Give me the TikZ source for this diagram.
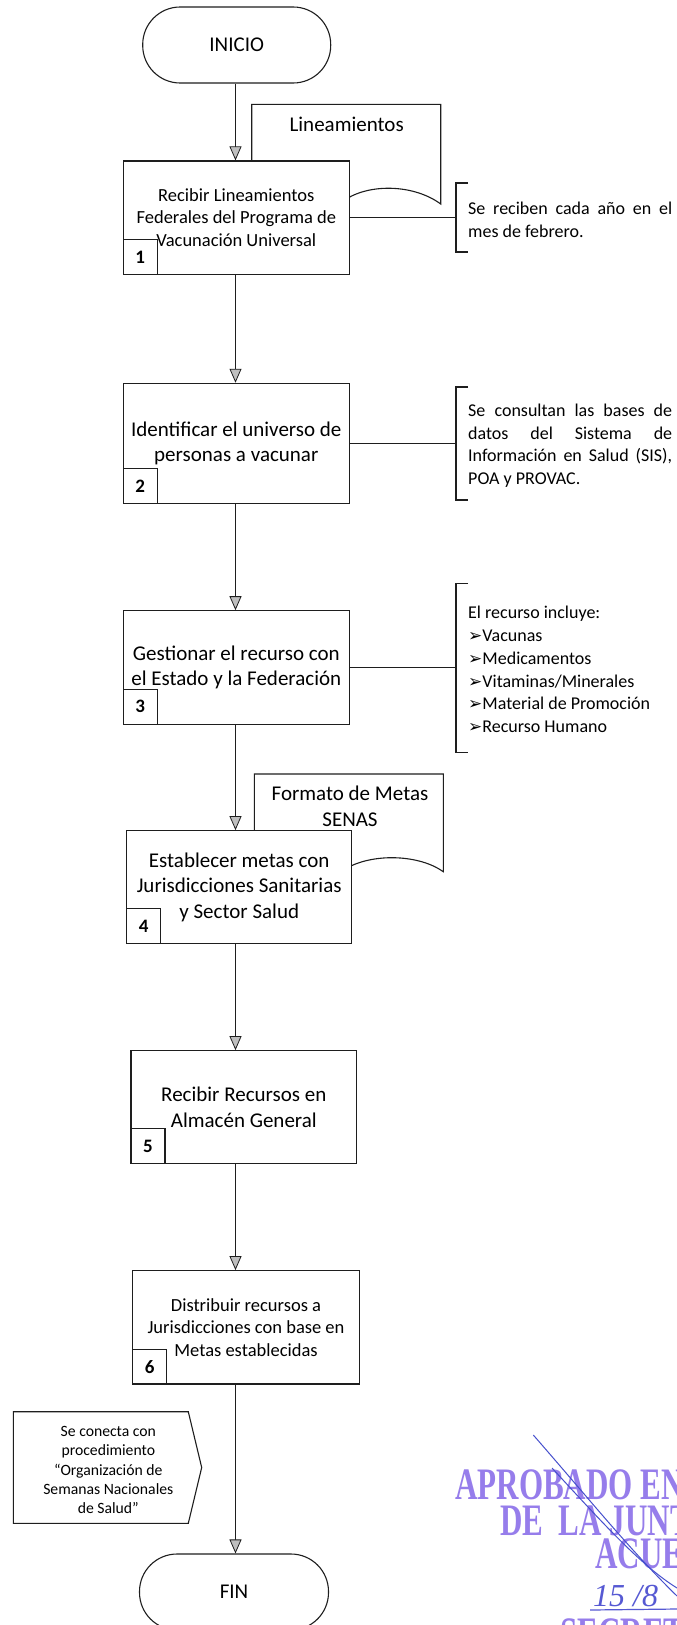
\documentclass[tikz,border=0pt]{standalone}
\usepackage{fontspec}
\usepackage{graphicx}
\setmainfont{Carlito}
\newfontfamily\stampfont{Liberation Serif}
\newfontfamily\symfont{DejaVu Sans}
\usetikzlibrary{arrows.meta}
\definecolor{stampcol}{RGB}{150,125,235}
\definecolor{penblue}{RGB}{70,80,205}
\definecolor{linecol}{RGB}{30,30,30}
\tikzset{
  base/.style={draw=linecol, line width=1.1pt},
  procbox/.style={base, fill=white, rectangle, inner sep=0pt, align=center},
  bigtxt/.style={font=\fontsize{21}{25.6}\selectfont},
  smalltxt/.style={font=\fontsize{18.5}{22.6}\selectfont},
  numbox/.style={base, rectangle, minimum width=34pt, minimum height=34.5pt, inner sep=0pt, anchor=south west, font=\fontsize{19}{22}\selectfont\bfseries},
  termbox/.style={base, fill=white, rectangle, rounded corners=37.5pt, minimum height=76pt, inner sep=0pt, font=\fontsize{21}{25}\selectfont},
  doctxt/.style={align=center, inner sep=0pt, font=\fontsize{21}{26}\selectfont},
  docshape/.style={base, fill=white},
  notetxt/.style={align=left, inner sep=0pt, anchor=west, font=\fontsize{18}{22.7}\selectfont},
  arr/.style={base, -{Triangle[length=14pt,width=12pt,fill=gray!50,line width=0.8pt]}},
  stamptxt/.style={text=stampcol, inner sep=0pt, anchor=base west, font=\stampfont\bfseries\fontsize{45}{45}\selectfont},
}
\newcommand{\bul}{{\symfont\fontsize{17}{17}\selectfont ➢}}
\begin{document}
\begin{tikzpicture}[x=1pt,y=-1pt]
\useasboundingbox (0,0) rectangle (677,1625);
\fill[white] (0,0) rectangle (677,1625);
\coordinate (colx) at (235.5,0);

% documents (behind the process boxes)
\draw[docshape] (251.7,204) -- (251.7,104.3) -- (440.7,104.3) -- (440.7,204)
  .. controls (415,185) and (372,183) .. (346.2,199)
  .. controls (320,216) and (280,218) .. (251.7,204) -- cycle;
\node[doctxt] (d1t) at (346.7,124) {Lineamientos};

\draw[docshape] (254.3,871.7) -- (254.3,774) -- (443.3,774) -- (443.3,871.7)
  .. controls (420,855) and (376,853) .. (348.8,867)
  .. controls (322,885) and (283,888) .. (254.3,871.7) -- cycle;
\node[doctxt] (d2t) at (350,806.3) {Formato de Metas\\SENAS};

% terminals
\node[termbox, minimum width=188pt] (ini) at (236.7,45) {INICIO};
\node[termbox, minimum width=189pt] (fin) at (234,1592) {FIN};

% process boxes
\node[procbox, smalltxt, minimum width=226pt, minimum height=113.3pt] (b1) at (236.3,217.6)
  {Recibir Lineamientos\\Federales del Programa de\\Vacunación Universal};
\node[procbox, bigtxt, minimum width=226pt, minimum height=120pt] (b2) at (236.3,443.3)
  {Identificar el universo de\\personas a vacunar};
\node[procbox, bigtxt, minimum width=226pt, minimum height=113.3pt] (b3) at (236.3,667.4)
  {Gestionar el recurso con\\el Estado y la Federación};
\node[procbox, bigtxt, minimum width=225pt, minimum height=112.6pt] (b4) at (239.2,887)
  {Establecer metas con\\Jurisdicciones Sanitarias\\y Sector Salud};
\node[procbox, bigtxt, minimum width=225.7pt, minimum height=112.6pt] (b5) at (243.8,1107)
  {Recibir Recursos en\\Almacén General};
\node[procbox, smalltxt, minimum width=226.6pt, minimum height=113.3pt] (b6) at (246,1327.3)
  {Distribuir recursos a\\Jurisdicciones con base en\\Metas establecidas};

% step numbers
\node[numbox] (n1) at (b1.south west) {1};
\node[numbox] (n2) at (b2.south west) {2};
\node[numbox] (n3) at (b3.south west) {3};
\node[numbox] (n4) at (b4.south west) {4};
\node[numbox] (n5) at (b5.south west) {5};
\node[numbox] (n6) at (b6.south west) {6};

% flow arrows
\draw[arr] (ini.south -| colx) -- (b1.north -| colx);
\draw[arr] (b1.south -| colx) -- (b2.north -| colx);
\draw[arr] (b2.south -| colx) -- (b3.north -| colx);
\draw[arr] (b3.south -| colx) -- (b4.north -| colx);
\draw[arr] (b4.south -| colx) -- (b5.north -| colx);
\draw[arr] (b5.south -| colx) -- (b6.north -| colx);
\draw[arr] (b6.south -| colx) -- (fin.north -| colx);

% annotations
\coordinate (k1) at (456,217.6);
\draw[base] (b1.east) -- (k1);
\draw[base] (468,183) -- (456,183) -- (456,252) -- (468,252);
\node[notetxt] (t1) at (468,219.7)
  {\makebox[204pt][s]{Se reciben cada año en el}\\mes de febrero.};

\coordinate (k2) at (456,443.3);
\draw[base] (b2.east) -- (k2);
\draw[base] (468,387) -- (456,387) -- (456,500) -- (468,500);
\node[notetxt] (t2) at (468,445.8)
  {\makebox[204pt][s]{Se consultan las bases de}\\
   \makebox[204pt][s]{datos del Sistema de}\\
   \makebox[204pt][s]{Información en Salud (SIS),}\\
   POA y PROVAC.};

\coordinate (k3) at (456,667.4);
\draw[base] (b3.east) -- (k3);
\draw[base] (468,583.3) -- (456,583.3) -- (456,752.7) -- (468,752.7);
\node[notetxt] (t3) at (468,669.5)
  {El recurso incluye:\\
   \bul Vacunas\\
   \bul Medicamentos\\
   \bul Vitaminas/Minerales\\
   \bul Material de Promoción\\
   \bul Recurso Humano};

% off-page connector
\draw[base] (13.3,1411.7) -- (188.3,1411.7) -- (201.7,1467.5) -- (188.3,1523.3) -- (13.3,1523.3) -- cycle;
\node[align=center, inner sep=0pt, font=\fontsize{15.7}{19.2}\selectfont] (off) at (108.3,1470)
  {Se conecta con\\procedimiento\\“Organización de\\Semanas Nacionales\\de Salud”};

% approval stamp (cut by the right edge, as in the scan)
\node[stamptxt] (s1) at (455,1499) {\scalebox{0.69}[1]{APROBADO EN}};
\node[stamptxt] (s2) at (500,1535) {\scalebox{0.69}[1]{DE\ \ LA JUNT}};
\node[stamptxt] (s3) at (595,1568) {\scalebox{0.69}[1]{ACUE}};
\node[stamptxt] (s4) at (560,1648) {\scalebox{0.69}[1]{SECRET}};
\node[inner sep=0pt, anchor=base west, text=penblue!80!stampcol, font=\stampfont\itshape\fontsize{32}{32}\selectfont] (s5) at (593,1606) {15 /8};
\draw[penblue!80!stampcol, line width=1.2pt] (590,1610) -- (677,1609);
\draw[penblue, line width=1pt] (533.3,1435) .. controls (590,1500) and (630,1550) .. (677,1596);
\draw[penblue, line width=1pt] (552,1468) .. controls (600,1520) and (640,1565) .. (677,1588);
\end{tikzpicture}
\end{document}
